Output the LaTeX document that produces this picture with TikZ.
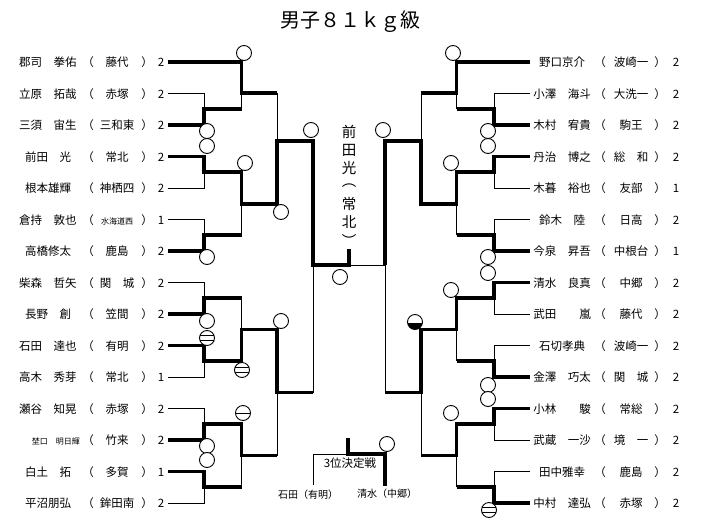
\documentclass[tikz,border=0pt]{standalone}
\usepackage{fontspec}
\setmainfont{Noto Sans CJK JP}
\usetikzlibrary{positioning}

\newcommand\sm[1]{{\fontsize{8}{9}\selectfont #1}}

\begin{document}
\begin{tikzpicture}[x=1pt, y=-1pt, font=\fontsize{11.5}{12}\selectfont]
	\tikzset{%
		win/.style={line width=3.6pt},
		lose/.style={line width=0.8pt},
		txt/.style={inner sep=0pt, anchor=base},
		okmark/.style={circle, draw=black, line width=0.9pt, fill=white, minimum size=15pt, inner sep=0pt},
		tiemark/.style={okmark, path picture={\draw[black, line width=1.3pt] ([yshift=2.2pt]path picture bounding box.west) -- ([yshift=2.2pt]path picture bounding box.east) ([yshift=-2.2pt]path picture bounding box.west) -- ([yshift=-2.2pt]path picture bounding box.east);}},
		onemark/.style={okmark, path picture={\draw[black, line width=1.3pt] ([yshift=-0.8pt]path picture bounding box.west) -- ([yshift=-0.8pt]path picture bounding box.east);}},
		halfmark/.style={okmark, path picture={\fill[black] ([yshift=-0.8pt]path picture bounding box.west) rectangle (path picture bounding box.south east);}}
	}
	\useasboundingbox (0,0) rectangle (702,525);
	\node[font=\fontsize{20}{22}\selectfont] (title) at (350,22) {男子８１ｋｇ級};
	% left entrants
	\foreach \n/\s/\p [count=\i from 0] in {郡司　拳佑/藤代/2, 立原　拓哉/赤塚/2, 三須　宙生/三和東/2, 前田　光/常北/2, 根本雄輝/神栖四/2, 倉持　敦也/\sm{水海道西}/1, 高橋修太/鹿島/2, 柴森　哲矢/関　城/2, 長野　創/笠間/2, 石田　達也/有明/2, 高木　秀芽/常北/1, 瀬谷　知晃/赤塚/2, \hspace*{16pt}\sm{埜口　明日輝}/竹来/2, 白土　拓/多賀/1, 平沼朋弘/鉾田南/2} {
		\pgfmathsetmacro\y{62+31.5*\i}
		\node[txt] (nL\i) at (48,\y+4.5) {\n};
		\node[txt] (oL\i) at (88,\y+4.5) {（};
		\node[txt] (sL\i) at (117,\y+4.5) {\s};
		\node[txt] (cL\i) at (147,\y+4.5) {）};
		\node[txt] (pL\i) at (161,\y+4.5) {\p};
		\coordinate (eL\i) at (168,\y);
	}
	% right entrants
	\foreach \n/\s/\p [count=\i from 0] in {野口京介/波崎一/2, 小澤　海斗/大洗一/2, 木村　宥貴/駒王/2, 丹治　博之/総　和/2, 木暮　裕也/友部/1, 鈴木　陸/日高/2, 今泉　昇吾/中根台/1, 清水　良真/中郷/2, 武田　　嵐/藤代/2, 石切孝典/波崎一/2, 金澤　巧太/関　城/2, 小林　　駿/常総/2, 武蔵　一沙/境　一/2, 田中雅幸/鹿島/2, 中村　達弘/赤塚/2} {
		\pgfmathsetmacro\y{62+31.5*\i}
		\node[txt] (nR\i) at (562,\y+4.5) {\n};
		\node[txt] (oR\i) at (600,\y+4.5) {（};
		\node[txt] (sR\i) at (631,\y+4.5) {\s};
		\node[txt] (cR\i) at (660,\y+4.5) {）};
		\node[txt] (pR\i) at (676,\y+4.5) {\p};
		\coordinate (eR\i) at (530,\y);
	}
	% left bracket
	\draw[win] (eL0) -| (241.5,93) -- (277,93);
	\draw[lose] (277,93) -- (277,141);
	\draw[lose] (eL1) -| (204,109.25);
	\draw[win] (eL2) -| (204,109.25) -- (241.5,109.25);
	\draw[lose] (241.5,109.25) -- (241.5,93);
	\draw[win] (eL3) -| (204,172.25) -| (241.5,203.75) -| (277,141) -| (313,265);
	\draw[win] (311.2,265) -| (349,249);
	\draw[lose] (eL4) -| (204,172.25);
	\draw[lose] (eL5) -| (204,235.25);
	\draw[win] (eL6) -| (204,235.25) -- (241.5,235.25);
	\draw[lose] (241.5,235.25) -- (241.5,203.75);
	\draw[lose] (eL7) -| (204,298.25);
	\draw[win] (eL8) -| (204,298.25) -- (241.5,298.25);
	\draw[lose] (241.5,298.25) -- (241.5,329.5);
	\draw[win] (eL9) -| (204,361.25) -| (241.5,329.5) -| (277,392.5) -- (313,392.5);
	\draw[lose] (313,392.5) -- (313,265);
	\draw[lose] (eL10) -| (204,361.25);
	\draw[lose] (eL11) -| (204,424.25);
	\draw[win] (eL12) -| (204,424.25) -| (241.5,455.5) -- (277,455.5);
	\draw[lose] (277,455.5) -- (277,392.5);
	\draw[win] (eL13) -| (204,487.25) -- (241.5,487.25);
	\draw[lose] (241.5,487.25) -- (241.5,455.5);
	\draw[lose] (eL14) -| (204,487.25);
	% right bracket
	\draw[win] (eR0) -| (456.5,93) -- (421,93);
	\draw[lose] (421,93) -- (421,141);
	\draw[lose] (eR1) -| (494,109.25);
	\draw[win] (eR2) -| (494,109.25) -- (456.5,109.25);
	\draw[lose] (456.5,109.25) -- (456.5,93);
	\draw[win] (eR3) -| (494,172.25) -| (456.5,203.75) -| (421,141) -| (385,265);
	\draw[lose] (385,265) -- (349,265);
	\draw[lose] (eR4) -| (494,172.25);
	\draw[lose] (eR5) -| (494,235.25);
	\draw[win] (eR6) -| (494,235.25) -- (456.5,235.25);
	\draw[lose] (456.5,235.25) -- (456.5,203.75);
	\draw[win] (eR7) -| (494,298.25) -| (456.5,329.5) -| (421,392.5) -- (385,392.5);
	\draw[lose] (385,392.5) -- (385,265);
	\draw[lose] (eR8) -| (494,298.25);
	\draw[lose] (eR9) -| (494,361.25);
	\draw[win] (eR10) -| (494,361.25) -- (456.5,361.25);
	\draw[lose] (456.5,361.25) -- (456.5,329.5);
	\draw[win] (eR11) -| (494,424.25) -| (456.5,455.5) -- (421,455.5);
	\draw[lose] (421,455.5) -- (421,392.5);
	\draw[lose] (eR12) -| (494,424.25);
	\draw[lose] (eR13) -| (494,487.25);
	\draw[win] (eR14) -| (494,487.25) -- (456.5,487.25);
	\draw[lose] (456.5,487.25) -- (456.5,455.5);
	% champion
	\foreach \c [count=\k] in {前,田,光,︵,常,北,︶}
		\node[font=\fontsize{14.5}{15}\selectfont] (v\k) at (349,114+18*\k) {\c};
	% third place
	\node[txt] (third) at (350,467) {3位決定戦};
	\node[txt, font=\fontsize{10}{11}\selectfont] (thL) at (308,498) {石田（有明）};
	\node[txt, font=\fontsize{10}{11}\selectfont] (thR) at (387,497) {清水（中郷）};
	\draw[lose] (313,485) |- (348,454);
	\draw[win] (348,438) |- (385,454) -- (385,486);
	% marks
	\foreach \x/\y [count=\k] in {244/53, 207/131, 207/146, 245/163, 207/257, 281/212, 311/130, 207/321, 281/321, 207/446, 207/460, 340/277}
		\node[okmark] (mL\k) at (\x,\y) {};
	\node[tiemark] (tL1) at (207,338) {};
	\node[tiemark] (tL2) at (242,370) {};
	\node[onemark] (tL3) at (243,413) {};
	\foreach \x/\y [count=\k] in {453/53, 488/131, 488/146, 451/163, 488/257, 383/130, 488/273, 451/290, 488/385, 488/399, 451/413, 387/444}
		\node[okmark] (mR\k) at (\x,\y) {};
	\node[tiemark] (tR1) at (489,510) {};
	\node[halfmark] (tR2) at (415,322) {};
\end{tikzpicture}
\end{document}
